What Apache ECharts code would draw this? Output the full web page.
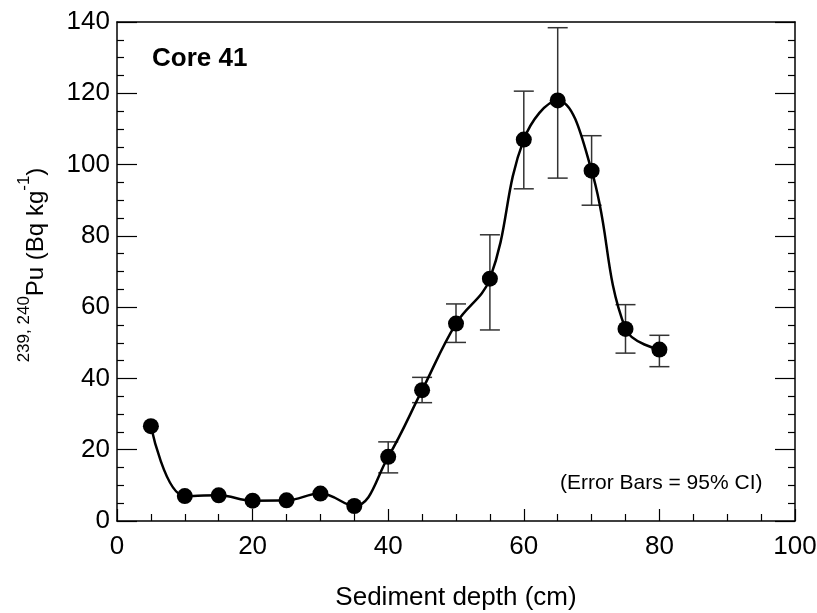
<!DOCTYPE html>
<html>
<head>
<meta charset="utf-8">
<script src="https://cdn.jsdelivr.net/npm/echarts@6/dist/echarts.min.js"></script>
<style>html,body{margin:0;padding:0;background:#fff}#c{width:817px;height:613px}</style>
</head>
<body>
<div id="c"></div>
<script>
var depths = [5, 10, 15, 20, 25, 30, 35, 40, 45, 50, 55, 60, 65, 70, 75, 80];
var puValues = [26.6, 7.0, 7.2, 5.7, 5.8, 7.7, 4.2, 18.0, 36.7, 55.4, 68.0, 107.0, 118.0, 98.3, 53.9, 48.1];
var errDepths = [40, 45, 50, 55, 60, 65, 70, 75, 80];
var errLow = [13.5, 33.2, 50.1, 53.6, 93.2, 96.2, 88.6, 47.1, 43.3];
var errHigh = [22.2, 40.3, 60.9, 80.3, 120.6, 138.4, 108.1, 60.7, 52.1];

var lineData = depths.map(function (d, i) { return [d, puValues[i]]; });
var errData = errDepths.map(function (d, i) { return [d, errLow[i], errHigh[i]]; });

var chart = echarts.init(document.getElementById('c'), null, { renderer: 'canvas' });
var font = 'Liberation Sans, Arial, sans-serif';
var axisLineStyle = { color: '#000', width: 1.5 };
var tickStyle = { color: '#000', width: 1.2 };
chart.setOption({
  animation: false,
  backgroundColor: '#fff',
  grid: { left: 117, right: 22, top: 22, bottom: 92, show: false, containLabel: false, outerBoundsMode: 'none' },
  xAxis: [{
    type: 'value', min: 0, max: 100, interval: 20,
    axisLine: { show: true, onZero: false, lineStyle: axisLineStyle },
    axisTick: { show: true, inside: true, length: 12, lineStyle: tickStyle },
    minorTick: { show: true, splitNumber: 4, length: 7, lineStyle: tickStyle },
    splitLine: { show: false },
    axisLabel: { fontSize: 26, color: '#000', fontFamily: font, margin: 13 },
    name: 'Sediment depth (cm)', nameLocation: 'middle', nameGap: 64,
    nameTextStyle: { fontSize: 26, color: '#000', fontFamily: font }
  }, {
    type: 'value', min: 0, max: 100, position: 'top',
    axisLine: { show: true, onZero: false, lineStyle: axisLineStyle },
    axisTick: { show: false }, axisLabel: { show: false }, splitLine: { show: false }
  }],
  yAxis: [{
    type: 'value', min: 0, max: 140, interval: 20,
    axisLine: { show: true, onZero: false, lineStyle: axisLineStyle },
    axisTick: { show: true, inside: true, length: 20, lineStyle: tickStyle },
    minorTick: { show: true, splitNumber: 4, length: 7, lineStyle: tickStyle },
    splitLine: { show: false },
    axisLabel: { fontSize: 26, color: '#000', fontFamily: font, margin: 7 }
  }, {
    type: 'value', min: 0, max: 140, interval: 20, position: 'right',
    axisLine: { show: true, onZero: false, lineStyle: axisLineStyle },
    axisTick: { show: true, inside: true, length: 20, lineStyle: tickStyle },
    minorTick: { show: true, splitNumber: 4, length: 7, lineStyle: tickStyle },
    splitLine: { show: false },
    axisLabel: { show: false }
  }],
  graphic: [{
    type: 'text', x: 32, y: 265, rotation: Math.PI / 2,
    style: {
      text: '{s|239, 240}{n|Pu (Bq kg}{s|-1}{n|)}',
      fill: '#000', align: 'center', verticalAlign: 'middle',
      rich: {
        n: { fontSize: 24, fontFamily: font, fill: '#000', lineHeight: 32, verticalAlign: 'bottom' },
        s: { fontSize: 17, fontFamily: font, fill: '#000', lineHeight: 32, verticalAlign: 'top' }
      }
    }
  }, {
    type: 'text', left: 152, top: 46,
    style: { text: 'Core 41', fontSize: 26, fontWeight: 'bold', fontFamily: font, fill: '#000' }
  }, {
    type: 'text', left: 560, top: 473,
    style: { text: '(Error Bars = 95% CI)', fontSize: 21, fontFamily: font, fill: '#000' }
  }],
  series: [{
    type: 'custom',
    renderItem: function (params, api) {
      var x = api.value(0);
      var lo = api.coord([x, api.value(1)]);
      var hi = api.coord([x, api.value(2)]);
      var hw = 10;
      var st = { stroke: '#333', lineWidth: 1.5 };
      return {
        type: 'group',
        children: [
          { type: 'line', shape: { x1: lo[0], y1: lo[1], x2: hi[0], y2: hi[1] }, style: st },
          { type: 'line', shape: { x1: lo[0] - hw, y1: lo[1], x2: lo[0] + hw, y2: lo[1] }, style: st },
          { type: 'line', shape: { x1: hi[0] - hw, y1: hi[1], x2: hi[0] + hw, y2: hi[1] }, style: st }
        ]
      };
    },
    encode: { x: 0, y: [1, 2] },
    data: errData,
    z: 1
  }, {
    type: 'line',
    data: lineData,
    smooth: 0.4,
    symbol: 'circle',
    symbolSize: 16,
    itemStyle: { color: '#000' },
    lineStyle: { color: '#000', width: 2.5 },
    z: 3
  }]
});
</script>
</body>
</html>
